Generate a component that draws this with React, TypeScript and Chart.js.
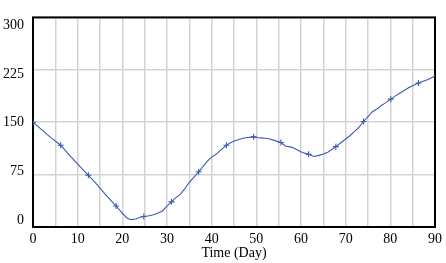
import React, { useEffect, useRef } from "react";
import { Chart, registerables } from "chart.js";

Chart.register(...registerables);

const days = [
  0, 2, 4, 6.2, 8, 10, 12.4, 14, 16, 18.6, 20, 21, 22, 23, 24, 24.8, 26, 27.2, 28, 29, 30, 31, 32, 33, 34, 35, 36,
  37.1, 38, 39, 40, 41, 42, 43.3, 44, 45, 46, 47, 48, 49.4, 50, 51, 52, 53, 54, 55.5, 56.5, 58, 59, 60.2, 61.7,
  62.8, 64, 65, 66, 67.8, 69, 70, 71, 72, 73, 74, 75, 76, 77, 78, 79, 80.1, 81, 82, 83, 84, 85, 86.3, 87, 88,
  89, 90,
];
const values = [
  150, 139, 128, 117, 104, 90, 74, 63, 48, 30, 20, 13, 10.5, 11.5, 14, 15, 16, 18, 20, 23, 30, 36, 42, 47, 55,
  64, 71, 79, 86, 94, 100, 104, 110, 117, 120, 123, 125, 127, 128, 129, 128, 127.5, 127, 126, 124, 121, 116, 114,
  111, 107, 104, 101, 102.5, 104.5, 107, 115, 121, 126, 131, 137, 143, 151, 158, 165, 169, 174, 178, 183, 187,
  191, 195, 199, 202, 206, 208, 210, 213, 216,
];
const markerDays = [0, 6.2, 12.4, 18.6, 24.8, 31, 37.1, 43.3, 49.4, 55.5, 61.7, 67.8, 74, 80.1, 86.3];
const yTicks = [0, 75, 150, 225, 300];
const xLabelDays = [0, 10, 20, 30, 40, 50, 60, 70, 80, 90];

const FONT = { family: "'Liberation Serif', 'Times New Roman', serif", size: 14 };

export default function App() {
  const ref = useRef<HTMLCanvasElement | null>(null);
  useEffect(() => {
    document.body.style.margin = "0";
    const canvas = ref.current;
    if (!canvas) return;
    const borderPlugin = {
      id: "frame",
      beforeDatasetsDraw(chart: any) {
        const { ctx, chartArea } = chart;
        ctx.save();
        ctx.strokeStyle = "#000";
        ctx.lineWidth = 2;
        ctx.strokeRect(chartArea.left, chartArea.top, chartArea.right - chartArea.left, chartArea.bottom - chartArea.top);
        ctx.restore();
      },
    };
    const chart = new Chart(canvas, {
      type: "line",
      data: {
        datasets: [
          {
            data: days.map((d, i) => ({ x: d, y: values[i] })),
            borderColor: "#3A5BB0",
            borderWidth: 1.1,
            tension: 0,
            pointStyle: "cross",
            pointRadius: (ctx: any) => (markerDays.includes(days[ctx.dataIndex]) ? 3 : 0),
            pointBorderColor: "#3A5BB0",
            pointBorderWidth: 1.1,
            fill: false,
          },
        ],
      },
      options: {
        animation: false,
        responsive: false,
        layout: { padding: { top: 8, right: 9, left: 0, bottom: 0 } },
        plugins: { legend: { display: false }, tooltip: { enabled: false } },
        scales: {
          x: {
            type: "linear",
            min: 0,
            max: 90,
            afterFit: (s: any) => {
              s.height = 36;
            },
            afterBuildTicks: (s: any) => {
              const t = [];
              for (let v = 0; v <= 90; v += 5) t.push({ value: v });
              s.ticks = t;
            },
            grid: { color: "#d3d3d3", lineWidth: 1.5, drawTicks: false },
            border: { display: false },
            ticks: {
              autoSkip: false,
              maxRotation: 0,
              padding: 4,
              color: "#000",
              font: FONT,
              callback: (v: any) => (xLabelDays.includes(Number(v)) ? String(v) : ""),
            },
            title: { display: true, text: "Time (Day)", color: "#000", font: FONT, padding: { top: 0, bottom: 1 } },
          },
          y: {
            position: "left",
            min: 0,
            max: 300,
            afterFit: (s: any) => {
              s.width = 0;
            },
            afterBuildTicks: (s: any) => {
              s.ticks = yTicks.map((v) => ({ value: v }));
            },
            grid: { color: "#d3d3d3", lineWidth: 1.5, drawTicks: false },
            border: { display: false },
            ticks: { display: false },
          },
          yl: {
            position: "left",
            min: -10.8,
            max: 312.1,
            afterFit: (s: any) => {
              s.width = 33;
            },
            afterBuildTicks: (s: any) => {
              s.ticks = yTicks.map((v) => ({ value: v }));
            },
            grid: { display: false, drawTicks: false },
            border: { display: false },
            ticks: { padding: 9, color: "#000", font: FONT },
          },
        },
      },
      plugins: [borderPlugin],
    } as any);
    return () => chart.destroy();
  }, []);
  return <canvas ref={ref} width={446} height={263} />;
}
